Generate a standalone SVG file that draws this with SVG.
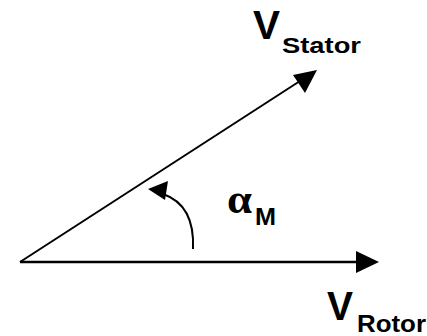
<svg xmlns="http://www.w3.org/2000/svg" width="427" height="336" viewBox="0 0 427 336">
<style>
.t{font-family:"Liberation Sans",Arial,sans-serif;font-weight:bold;fill:#000}
.a{font-family:"Liberation Serif","Times New Roman",serif;font-weight:bold;fill:#000}
.v{stroke:#000;fill:none}
</style>
<rect width="427" height="336" fill="#fff"/>
<g id="connectors">
<line class="v" x1="20" y1="262" x2="358" y2="262" stroke-width="2.5"/>
<polygon points="379,262 356,251 356,273" fill="#000"/>
<line class="v" x1="20" y1="262" x2="300" y2="81" stroke-width="2"/>
<polygon points="317,70 293,75 305,93" fill="#000"/>
<path class="v" d="M193,249 Q195,205 163,194" stroke-width="2"/>
<polygon points="148,189 168,181 165,200" fill="#000"/>
</g>
<g id="stator"><text class="t" x="253" y="39" font-size="40" textLength="27" lengthAdjust="spacingAndGlyphs">V</text><text class="t" x="282" y="53" font-size="22" textLength="79" lengthAdjust="spacingAndGlyphs">Stator</text></g>
<g id="alpha"><text class="a" x="227" y="213" font-size="40" textLength="25" lengthAdjust="spacingAndGlyphs">α</text><text class="t" x="255" y="225" font-size="23" textLength="21" lengthAdjust="spacingAndGlyphs">M</text></g>
<g id="rotor"><text class="t" x="327" y="320" font-size="41" textLength="26" lengthAdjust="spacingAndGlyphs">V</text><text class="t" x="357" y="332" font-size="23" textLength="69" lengthAdjust="spacingAndGlyphs">Rotor</text></g>
</svg>
